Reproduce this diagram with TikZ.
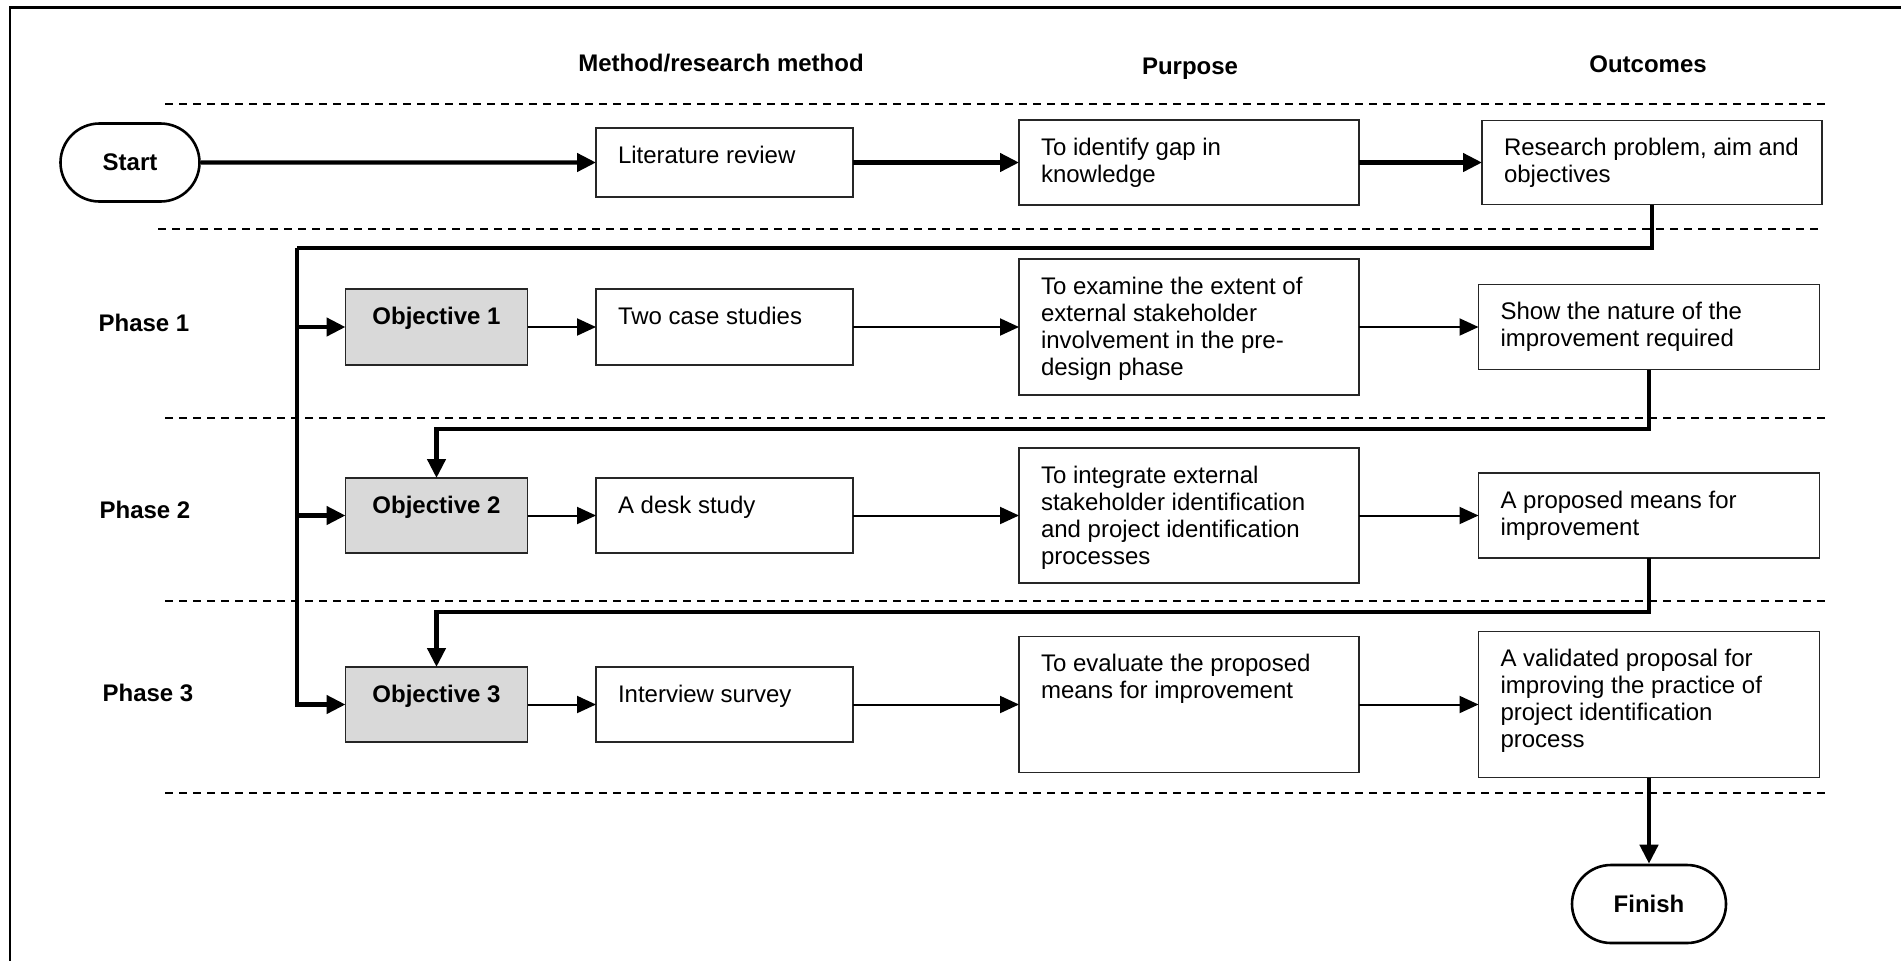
\documentclass[tikz,border=0pt]{standalone}
\usepackage{fontspec}
\setmainfont{Liberation Sans}
\usetikzlibrary{arrows.meta,shapes.misc}

\definecolor{objgrey}{HTML}{D9D9D9}
\definecolor{edge}{HTML}{262626}

% normal body text of the chart
\newcommand\chartfont{\fontsize{12pt}{13.5pt}\selectfont}
% box contents: top-left aligned, first baseline 17.5pt below the top edge
\newcommand\boxtxt[3]{\parbox[c][#2][t]{#1}{\raggedright\leftskip=11pt\relax\rule{0pt}{17.5pt}#3\par}}
% objective contents: bold, centred, same first baseline
\newcommand\objtxt[3]{\parbox[c][#2][t]{#1}{\centering\bfseries\rule{0pt}{17.5pt}#3\par}}

\begin{document}
\begin{tikzpicture}[
  x=0.5pt, y=-0.5pt,
  font=\chartfont,
  boxnode/.style={draw=edge, line width=0.8pt, inner sep=0pt, outer sep=0pt, fill=white},
  objnode/.style={boxnode, fill=objgrey},
  terminal/.style={rounded rectangle, draw=black, line width=1.3pt, inner sep=0pt,
    minimum height=39pt, font=\chartfont\bfseries},
  heading/.style={anchor=base, inner sep=0pt, font=\chartfont\bfseries},
  rowsep/.style={line width=1pt, dash pattern=on 4pt off 3pt},
  mainflow/.style={line width=2.2pt, -{Triangle[length=9.5pt,width=9pt]}},
  busline/.style={line width=2.2pt},
  stepflow/.style={line width=1pt, -{Triangle[length=9.5pt,width=8.5pt]}}
]
\useasboundingbox (0,0) rectangle (1901,960);

% frame (top and left edges)
\draw[line width=1.2pt] (10,962) -- (10,7.5) -- (1903,7.5);

% column headings
\node[heading] (hmethod)  at (721,71)  {Method/research method};
\node[heading] (hpurpose) at (1190,74) {Purpose};
\node[heading] (houtcome) at (1648,72) {Outcomes};

% phase labels
\node[heading] (ph1) at (144,331.5) {Phase 1};
\node[heading] (ph2) at (145,518.5) {Phase 2};
\node[heading] (ph3) at (148,701.5) {Phase 3};

% row separators
\draw[rowsep] (165,104) -- (1826,104);
\draw[rowsep] (158,229) -- (1819,229);
\draw[rowsep] (165,418) -- (1826,418);
\draw[rowsep] (165,601) -- (1826,601);
\draw[rowsep] (165,793) -- (1826,793);

% start and finish
\node[terminal, minimum width=69.5pt] (start)  at (130,162.5) {Start};
\node[terminal, minimum width=77pt]   (finish) at (1649,904)  {Finish};

% opening row
\node[boxnode] (lit) at (724.5,162.5) {\boxtxt{128.5pt}{34.5pt}{Literature review}};
\node[boxnode] (gap) at (1189,162.5)  {\boxtxt{170pt}{42.5pt}{To identify gap in\\knowledge}};
\node[boxnode] (res) at (1652,162.5)  {\boxtxt{170pt}{42pt}{Research problem, aim and\\objectives}};

% phase 1
\node[objnode] (obj1)  at (436.5,327) {\objtxt{91pt}{38pt}{Objective 1}};
\node[boxnode] (case)  at (724.5,327) {\boxtxt{128.5pt}{38pt}{Two case studies}};
\node[boxnode] (exam)  at (1189,327)  {\boxtxt{170pt}{68pt}{To examine the extent of\\external stakeholder\\involvement in the pre-\\design phase}};
\node[boxnode] (show)  at (1649,327)  {\boxtxt{170.5pt}{42.5pt}{Show the nature of the\\improvement required}};

% phase 2
\node[objnode] (obj2)  at (436.5,515.5) {\objtxt{91pt}{37.5pt}{Objective 2}};
\node[boxnode] (desk)  at (724.5,515.5) {\boxtxt{128.5pt}{37.5pt}{A desk study}};
\node[boxnode] (integ) at (1189,515.5)  {\boxtxt{170pt}{67.5pt}{To integrate external\\stakeholder identification\\and project identification\\processes}};
\node[boxnode] (means) at (1649,515.5)  {\boxtxt{170.5pt}{42.5pt}{A proposed means for\\improvement}};

% phase 3
\node[objnode] (obj3)  at (436.5,704.5) {\objtxt{91pt}{37.5pt}{Objective 3}};
\node[boxnode] (intv)  at (724.5,704.5) {\boxtxt{128.5pt}{37.5pt}{Interview survey}};
\node[boxnode] (eval)  at (1189,704.5)  {\boxtxt{170pt}{68pt}{To evaluate the proposed\\means for improvement}};
\node[boxnode] (valid) at (1649,704.5)  {\boxtxt{170.5pt}{73pt}{A validated proposal for\\improving the practice of\\project identification\\process}};

% opening flow
\draw[mainflow] (start) -- (lit);
\draw[mainflow] (lit) -- (gap);
\draw[mainflow] (gap) -- (res);

% distribution bus from the objectives to each phase
\coordinate (bus) at (297,248);
\draw[busline] (res.south) |- (bus);
\draw[mainflow] (bus) |- (obj3.west);
\draw[mainflow] (bus |- obj1.west) -- (obj1.west);
\draw[mainflow] (bus |- obj2.west) -- (obj2.west);

% steps within each phase
\draw[stepflow] (obj1) -- (case);
\draw[stepflow] (case) -- (exam);
\draw[stepflow] (exam) -- (show);
\draw[stepflow] (obj2) -- (desk);
\draw[stepflow] (desk) -- (integ);
\draw[stepflow] (integ) -- (means);
\draw[stepflow] (obj3) -- (intv);
\draw[stepflow] (intv) -- (eval);
\draw[stepflow] (eval) -- (valid);

% feedback from each outcome to the next objective
\coordinate (loop1) at (436.5,429);
\coordinate (loop2) at (436.5,612);
\draw[mainflow] (show.south) |- (loop1) -- (obj2.north);
\draw[mainflow] (means.south) |- (loop2) -- (obj3.north);
\draw[mainflow] (valid.south) -- (finish.north);
\end{tikzpicture}
\end{document}
